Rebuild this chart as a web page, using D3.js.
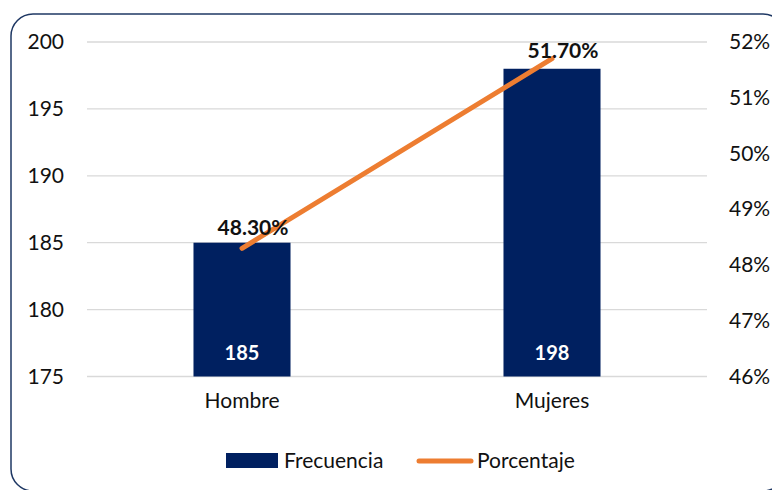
<!DOCTYPE html>
<html>
<head>
<meta charset="utf-8">
<script src="https://cdn.jsdelivr.net/npm/d3@7"></script>
<style>
  html, body { margin: 0; padding: 0; background: #fff; }
  svg { display: block; font-family: Lato, "Open Sans", sans-serif; }
</style>
</head>
<body>
<div id="chart"></div>
<script>
// Data
const categories = ['Hombre', 'Mujeres'];
const frecuencia = [185, 198];
const porcentaje = [0.483, 0.517];
const leftTicks = [175, 180, 185, 190, 195, 200];
const rightTicks = [0.46, 0.47, 0.48, 0.49, 0.50, 0.51, 0.52];
const seriesNames = ['Frecuencia', 'Porcentaje'];

const width = 772, height = 490;
const plot = { left: 87, right: 707, top: 42, bottom: 376.5 };
const navy = '#002060', orange = '#ED7D31';

const svg = d3.select('#chart').append('svg')
  .attr('width', width)
  .attr('height', height);

// Outer frame (runs off the right edge like the original)
svg.append('rect')
  .attr('x', 11).attr('y', 14)
  .attr('width', 774).attr('height', 477)
  .attr('rx', 22).attr('ry', 22)
  .attr('fill', '#fff')
  .attr('stroke', '#1F3864')
  .attr('stroke-width', 1.5);

const x = d3.scaleBand()
  .domain(categories)
  .range([plot.left, plot.right])
  .paddingInner(0.687)
  .paddingOuter(0.3435);

const yLeft = d3.scaleLinear().domain([175, 200]).range([plot.bottom, plot.top]);
const yRight = d3.scaleLinear().domain([0.46, 0.52]).range([plot.bottom, plot.top]);

// Gridlines
svg.append('g')
  .selectAll('line')
  .data(leftTicks)
  .join('line')
  .attr('x1', plot.left).attr('x2', plot.right)
  .attr('y1', d => yLeft(d)).attr('y2', d => yLeft(d))
  .attr('stroke', '#d9d9d9')
  .attr('stroke-width', 1.3);

// Left axis
const leftAxis = svg.append('g')
  .attr('transform', `translate(64,0)`)
  .call(d3.axisLeft(yLeft).tickValues(leftTicks).tickSize(0).tickPadding(0));
leftAxis.select('.domain').remove();
leftAxis.selectAll('text')
  .attr('font-size', 21)
  .attr('font-family', 'Lato, sans-serif')
  .attr('fill', '#111');

// Right axis
const rightAxis = svg.append('g')
  .attr('transform', `translate(729,0)`)
  .call(d3.axisRight(yRight).tickValues(rightTicks).tickSize(0).tickPadding(0)
    .tickFormat(d3.format('.0%')));
rightAxis.select('.domain').remove();
rightAxis.selectAll('text')
  .attr('font-size', 21)
  .attr('font-family', 'Lato, sans-serif')
  .attr('fill', '#111');

// Category axis
const catAxis = svg.append('g')
  .attr('transform', `translate(0,${plot.bottom})`)
  .call(d3.axisBottom(x).tickSize(0).tickPadding(17));
catAxis.select('.domain').remove();
catAxis.selectAll('text')
  .attr('font-size', 21)
  .attr('font-family', 'Lato, sans-serif')
  .attr('fill', '#111');

// Bars
svg.append('g')
  .selectAll('rect')
  .data(frecuencia)
  .join('rect')
  .attr('x', (d, i) => x(categories[i]))
  .attr('y', d => yLeft(d))
  .attr('width', x.bandwidth())
  .attr('height', d => plot.bottom - yLeft(d))
  .attr('fill', navy);

// Bar value labels (inside base)
svg.append('g')
  .selectAll('text')
  .data(frecuencia)
  .join('text')
  .attr('x', (d, i) => x(categories[i]) + x.bandwidth() / 2)
  .attr('y', plot.bottom - 17)
  .attr('text-anchor', 'middle')
  .attr('font-size', 20)
  .attr('font-weight', 'bold')
  .attr('fill', '#fff')
  .text(d => d);

// Percentage line
const cx = i => x(categories[i]) + x.bandwidth() / 2;
const line = d3.line()
  .x((d, i) => cx(i))
  .y(d => yRight(d));

svg.append('path')
  .datum(porcentaje)
  .attr('d', line)
  .attr('fill', 'none')
  .attr('stroke', orange)
  .attr('stroke-width', 5)
  .attr('stroke-linecap', 'round');

// Percentage labels, kept inside the plot area
svg.append('g')
  .selectAll('text')
  .data(porcentaje)
  .join('text')
  .attr('x', (d, i) => cx(i) + 11)
  .attr('y', d => Math.max(yRight(d) - 13, plot.top + 16))
  .attr('text-anchor', 'middle')
  .attr('font-size', 21)
  .attr('font-weight', 'bold')
  .attr('fill', '#111')
  .text(d => d3.format('.2%')(d));

// Legend
const legend = svg.append('g').attr('font-size', 21).attr('fill', '#111');
legend.append('rect')
  .attr('x', 226).attr('y', 453)
  .attr('width', 52).attr('height', 15)
  .attr('fill', navy);
legend.append('text')
  .attr('x', 284).attr('y', 468)
  .text(seriesNames[0]);
legend.append('line')
  .attr('x1', 419).attr('x2', 471)
  .attr('y1', 461).attr('y2', 461)
  .attr('stroke', orange)
  .attr('stroke-width', 5)
  .attr('stroke-linecap', 'round');
legend.append('text')
  .attr('x', 477).attr('y', 468)
  .text(seriesNames[1]);
</script>
</body>
</html>
